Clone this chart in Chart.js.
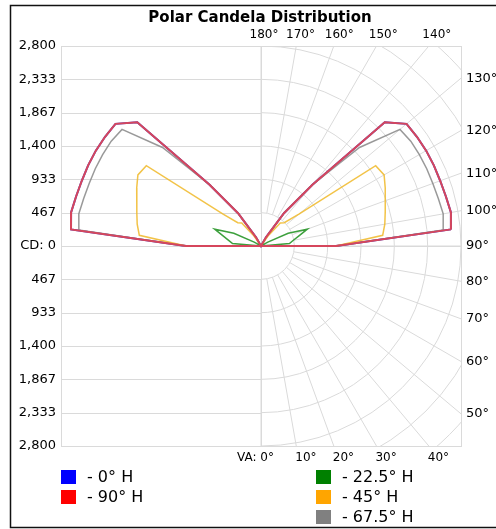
<!DOCTYPE html>
<html>
<head>
<meta charset="utf-8">
<script src="https://cdn.jsdelivr.net/npm/chart.js@4.4.1/dist/chart.umd.min.js"></script>
<style>
  html, body { margin: 0; padding: 0; background: #fff; }
  #chart { display: block; }
</style>
</head>
<body>
<canvas id="chart" width="496" height="529"></canvas>
<script>
// vertical angles (deg, 0 = straight down) and candela per horizontal plane
const vaAngles = [0, 5, 10, 15, 20, 25, 30, 35, 40, 45, 50, 55, 60, 65, 70, 75, 80, 85,
  90, 95, 100, 105, 110, 115, 120, 125, 130, 135, 140, 145, 150, 155, 160, 165, 170, 175, 180];

const cd0 = [0, 0, 0, 0, 0, 0, 0, 0, 0, 0, 0, 0, 0, 0, 0, 0, 0, 0,
  1050, 2670, 2700, 2680, 2670, 2670, 2670, 2665, 2660, 2450, 1120, 560, 140, 0, 0, 0, 0, 0, 0];
const cd22 = [0, 0, 0, 0, 0, 0, 0, 0, 0, 0, 0, 0, 0, 0, 0, 0, 0, 0,
  0, 400, 460, 550, 690, 420, 110, 0, 0, 0, 0, 0, 0, 0, 0, 0, 0, 0, 0];
const cd45 = [0, 0, 0, 0, 0, 0, 0, 0, 0, 0, 0, 0, 0, 0, 0, 0, 0, 0,
  1050, 1710, 1760, 1800, 1850, 1920, 1990, 1960, 700, 460, 420, 170, 0, 0, 0, 0, 0, 0, 0];
const cd67 = [0, 0, 0, 0, 0, 0, 0, 0, 0, 0, 0, 0, 0, 0, 0, 0, 0, 0,
  1050, 2560, 2590, 2570, 2560, 2560, 2560, 2560, 2540, 1950, 1120, 560, 140, 0, 0, 0, 0, 0, 0];
const cd90 = [0, 0, 0, 0, 0, 0, 0, 0, 0, 0, 0, 0, 0, 0, 0, 0, 0, 0,
  1050, 2670, 2700, 2680, 2670, 2670, 2670, 2665, 2660, 2450, 1120, 560, 140, 0, 0, 0, 0, 0, 0];

const seriesLabels = ['0° H', '90° H', '22.5° H', '45° H', '67.5° H'];
const legendColors = ['#0000ff', '#ff0000', '#008000', '#ffa500', '#808080'];

// axis ticks
const cdMax = 2800;
const cdTicks = [2800, 2333.33, 1866.67, 1400, 933.33, 466.67, 0, -466.67, -933.33, -1400, -1866.67, -2333.33, -2800];
const cdLabels = ['2,800', '2,333', '1,867', '1,400', '933', '467', 'CD: 0', '467', '933', '1,400', '1,867', '2,333', '2,800'];
const ringStep = 466.67;
const topAngles = [180, 170, 160, 150, 140];
const rightAngles = [130, 120, 110, 100, 90, 80, 70, 60, 50];
const bottomAngles = [0, 10, 20, 30, 40];

const FONT = '"DejaVu Sans", Verdana, sans-serif';
const GRID = '#dadada';

// polar -> xy, right half is the plane itself, left half its mirror
function toXY(values) {
  const pts = [];
  vaAngles.forEach((a, i) => {
    const r = values[i], t = a * Math.PI / 180;
    pts.push({ x: r * Math.sin(t), y: -r * Math.cos(t) });
  });
  for (let i = vaAngles.length - 1; i >= 0; i--) {
    const r = values[i], t = vaAngles[i] * Math.PI / 180;
    pts.push({ x: -r * Math.sin(t), y: -r * Math.cos(t) });
  }
  return pts;
}

const polarGrid = {
  id: 'polarGrid',
  beforeDatasetsDraw(chart) {
    const { ctx, chartArea: a, scales: { x, y } } = chart;
    const cx = x.getPixelForValue(0), cy = y.getPixelForValue(0);
    const pxPer = (x.getPixelForValue(cdMax) - cx) / cdMax;
    ctx.save();
    ctx.beginPath();
    ctx.rect(a.left, a.top, a.right - a.left, a.bottom - a.top);
    ctx.clip();
    ctx.strokeStyle = GRID;
    ctx.lineWidth = 1;
    // left half: horizontal lines
    cdTicks.forEach(v => {
      const py = Math.round(y.getPixelForValue(v)) + 0.5;
      ctx.beginPath();
      ctx.moveTo(a.left, py);
      ctx.lineTo(v === 0 ? a.right : cx, py);
      ctx.stroke();
    });
    // right half: rings
    for (let k = 1; k <= 8; k++) {
      ctx.beginPath();
      ctx.arc(cx, cy, k * ringStep * pxPer, -Math.PI / 2, Math.PI / 2);
      ctx.stroke();
    }
    // right half: spokes every 10 deg
    for (let a2 = 0; a2 <= 180; a2 += 10) {
      const t = a2 * Math.PI / 180;
      const r0 = ringStep * pxPer, r1 = 2 * cdMax * pxPer;
      ctx.beginPath();
      ctx.moveTo(cx + r0 * Math.sin(t), cy + r0 * Math.cos(t));
      ctx.lineTo(cx + r1 * Math.sin(t), cy + r1 * Math.cos(t));
      ctx.stroke();
    }
    // center vertical line
    ctx.beginPath();
    ctx.moveTo(Math.round(cx) + 0.5, a.top);
    ctx.lineTo(Math.round(cx) + 0.5, a.bottom);
    ctx.stroke();
    ctx.restore();
    ctx.save();
    ctx.strokeStyle = GRID;
    ctx.strokeRect(a.left + 0.5, a.top + 0.5, a.right - a.left, a.bottom - a.top);
    ctx.restore();
  },
  afterDraw(chart) {
    const { ctx, chartArea: a, scales: { x, y } } = chart;
    ctx.save();
    ctx.fillStyle = '#000';
    ctx.textBaseline = 'middle';

    // title
    ctx.font = 'bold 15px ' + FONT;
    ctx.textAlign = 'center';
    ctx.fillText('Polar Candela Distribution', 260, 18);

    // CD labels
    ctx.font = '13px ' + FONT;
    ctx.textAlign = 'right';
    cdTicks.forEach((v, i) => ctx.fillText(cdLabels[i], 56, y.getPixelForValue(v)));

    // angle labels
    ctx.font = '12px ' + FONT;
    ctx.textAlign = 'center';
    topAngles.forEach(d => {
      const px = x.getPixelForValue(cdMax * Math.tan((180 - d) * Math.PI / 180));
      ctx.fillText(d + '°', px + 3 + (180 - d) / 8, 35);
    });
    ctx.font = '13px ' + FONT;
    ctx.textAlign = 'left';
    rightAngles.forEach(d => {
      const t = d * Math.PI / 180;
      ctx.fillText(d + '°', 466, y.getPixelForValue(-cdMax * Math.cos(t) / Math.sin(t)));
    });
    ctx.font = '12px ' + FONT;
    bottomAngles.forEach(d => {
      const px = x.getPixelForValue(cdMax * Math.tan(d * Math.PI / 180));
      if (d === 0) {
        ctx.textAlign = 'right';
        ctx.fillText('VA: 0°', px + 13, 458);
      } else {
        ctx.textAlign = 'left';
        ctx.fillText(d + '°', px - 1, 458);
      }
    });

    // legend: two columns
    const slots = [[61, 470], [61, 490], [316, 470], [316, 490], [316, 510]];
    ctx.font = '16px ' + FONT;
    ctx.textAlign = 'left';
    seriesLabels.forEach((lab, i) => {
      const [lx, ly] = slots[i];
      ctx.fillStyle = legendColors[i];
      ctx.fillRect(lx, ly, 15, 14);
      ctx.fillStyle = '#000';
      ctx.fillText('- ' + lab, lx + 26, ly + 8);
    });

    // outer frame
    ctx.strokeStyle = '#111';
    ctx.lineWidth = 1.5;
    ctx.strokeRect(10.5, 5.5, 492, 522);
    ctx.restore();
  }
};

// higher order is drawn first (underneath)
const line = (label, values, color, width, order) => ({
  label,
  data: toXY(values),
  showLine: true,
  borderColor: color,
  borderWidth: width,
  pointRadius: 0,
  tension: 0,
  fill: false,
  order,
});

new Chart(document.getElementById('chart'), {
  type: 'scatter',
  data: {
    datasets: [
      line(seriesLabels[0], cd0, '#4040d0', 2, 5),
      line(seriesLabels[1], cd90, 'rgb(214,70,92)', 2, 1),
      line(seriesLabels[2], cd22, 'rgba(40,150,40,0.9)', 1.5, 2),
      line(seriesLabels[3], cd45, 'rgba(240,185,40,0.85)', 1.5, 3),
      line(seriesLabels[4], cd67, 'rgba(135,135,135,0.85)', 1.5, 4),
    ],
  },
  options: {
    responsive: false,
    animation: false,
    layout: { padding: { left: 61, top: 46, right: 35, bottom: 83 } },
    plugins: { legend: { display: false }, tooltip: { enabled: false }, title: { display: false } },
    scales: {
      x: { type: 'linear', min: -cdMax, max: cdMax, display: false },
      y: { type: 'linear', min: -cdMax, max: cdMax, display: false },
    },
  },
  plugins: [polarGrid],
});
</script>
</body>
</html>
